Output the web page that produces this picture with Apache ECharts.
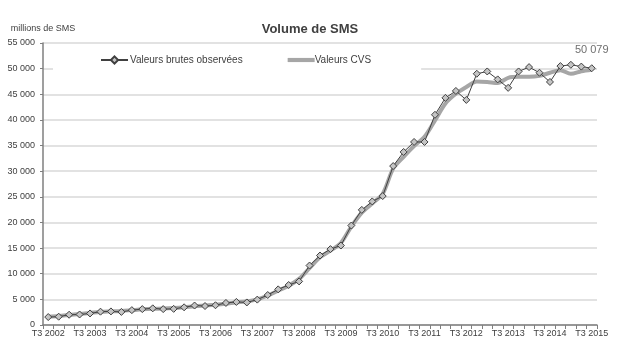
<!DOCTYPE html>
<html>
<head>
<meta charset="utf-8">
<script src="https://cdn.jsdelivr.net/npm/echarts@6/dist/echarts.min.js"></script>
<style>html,body{margin:0;padding:0;background:#fff}#c{width:620px;height:350px}</style>
</head>
<body>
<div id="c"></div>
<script>
var categories = [
 'T3 2002','T4 2002','T1 2003','T2 2003','T3 2003','T4 2003','T1 2004','T2 2004',
 'T3 2004','T4 2004','T1 2005','T2 2005','T3 2005','T4 2005','T1 2006','T2 2006',
 'T3 2006','T4 2006','T1 2007','T2 2007','T3 2007','T4 2007','T1 2008','T2 2008',
 'T3 2008','T4 2008','T1 2009','T2 2009','T3 2009','T4 2009','T1 2010','T2 2010',
 'T3 2010','T4 2010','T1 2011','T2 2011','T3 2011','T4 2011','T1 2012','T2 2012',
 'T3 2012','T4 2012','T1 2013','T2 2013','T3 2013','T4 2013','T1 2014','T2 2014',
 'T3 2014','T4 2014','T1 2015','T2 2015','T3 2015'
];
var brutes = [1550,1620,2000,2050,2250,2600,2650,2550,2900,3100,3250,3100,3150,3450,3800,3700,3850,4300,4500,4400,4950,5850,6950,7800,8500,11600,13550,14800,15500,19400,22450,24100,25150,31000,33750,35700,35700,41000,44300,45650,43900,49000,49450,47900,46250,49450,50300,49200,47400,50500,50750,50400,50079];
var cvs = [1600,1750,1950,2150,2350,2550,2650,2750,2900,3050,3150,3200,3300,3450,3650,3800,3950,4150,4400,4600,5000,5750,6700,7650,9000,11100,13200,14500,16000,19200,21900,23700,25600,30500,32800,34900,36700,39900,43200,45100,46400,47500,47400,47200,48200,48400,48400,48600,49200,49700,49000,49500,49800];
var yTicks = {min: 0, max: 55000, interval: 5000};

function fmt(v){ return String(v).replace(/\B(?=(\d{3})+(?!\d))/g, ' '); }

var brutesData = brutes.map(function(v, i){
  if (i === brutes.length - 1) {
    return {value: v, label: {show: true, position: 'top', distance: 9, formatter: function(p){return fmt(p.value);},
      color: '#6f6f6f', fontSize: 11, fontFamily: 'Liberation Sans'}};
  }
  return v;
});

var chart = echarts.init(document.getElementById('c'), null, {renderer: 'canvas'});
chart.setOption({
  animation: false,
  backgroundColor: '#fff',
  textStyle: {fontFamily: 'Liberation Sans'},
  title: {text: 'Volume de SMS', left: 'center', top: 18,
    textStyle: {fontSize: 13, fontWeight: 'bold', color: '#404040', fontFamily: 'Liberation Sans'}},
  legend: {
    left: 53, top: 49, padding: [6, 50, 6, 47], backgroundColor: '#fff',
    itemWidth: 27, itemHeight: 9, itemGap: 45,
    textStyle: {fontSize: 10, color: '#404040', fontFamily: 'Liberation Sans', padding: [0,0,0,-3]},
    data: [
      {name: 'Valeurs brutes observées'},
      {name: 'Valeurs CVS', icon: 'path://M0,0 L26,0 L26,4 L0,4 Z', itemStyle: {color: '#a6a6a6'},
       textStyle: {padding: [0,0,0,-5]}}
    ]
  },
  grid: {left: 43, right: 23, top: 43, bottom: 25, containLabel: false},
  xAxis: {
    type: 'category', data: categories, boundaryGap: true,
    axisLine: {lineStyle: {color: '#7f7f7f', width: 1.5}},
    axisTick: {show: true, interval: 0, length: 4, lineStyle: {color: '#7f7f7f'}},
    axisLabel: {interval: 3, fontSize: 9, color: '#404040', margin: 4, fontFamily: 'Liberation Sans'},
    splitLine: {show: false}
  },
  yAxis: {
    type: 'value', min: yTicks.min, max: yTicks.max, interval: yTicks.interval,
    name: 'millions de SMS', nameGap: 10,
    nameTextStyle: {fontSize: 9, color: '#404040', fontFamily: 'Liberation Sans'},
    axisLine: {show: true, lineStyle: {color: '#7f7f7f', width: 1.5}},
    axisTick: {show: true, length: 3, lineStyle: {color: '#7f7f7f'}},
    axisLabel: {fontSize: 9, color: '#404040', margin: 8, formatter: fmt, fontFamily: 'Liberation Sans'},
    splitLine: {lineStyle: {color: '#d9d9d9', width: 1.5}}
  },
  series: [
    {
      name: 'Valeurs CVS', type: 'line', data: cvs, smooth: 0.3,
      symbol: 'none', z: 2,
      lineStyle: {color: '#a6a6a6', width: 4},
      itemStyle: {color: '#a6a6a6'}
    },
    {
      name: 'Valeurs brutes observées', type: 'line', data: brutesData,
      symbol: 'diamond', symbolSize: 7, showAllSymbol: true, z: 3,
      lineStyle: {color: '#404040', width: 1},
      itemStyle: {color: '#c4c4c4', borderColor: '#404040', borderWidth: 1}
    }
  ]
});
</script>
</body>
</html>
